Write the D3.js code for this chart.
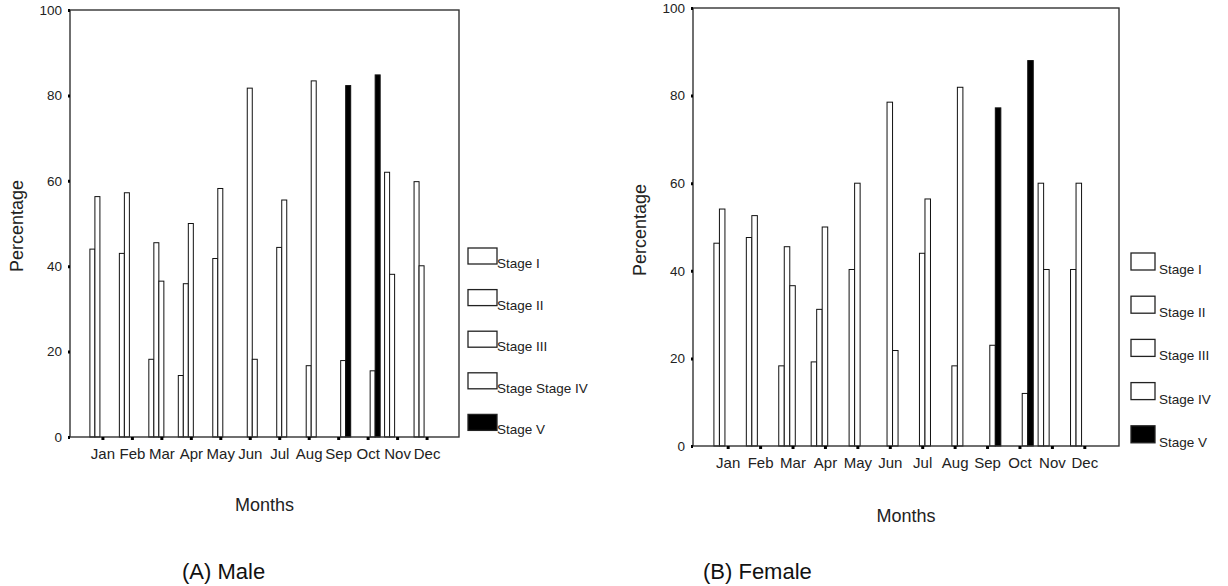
<!DOCTYPE html>
<html>
<head>
<meta charset="utf-8">
<script src="https://cdn.jsdelivr.net/npm/d3@7"></script>
<style>
  body { margin: 0; background: #fff; }
  svg { display: block; font-family: "Liberation Sans", Arial, sans-serif; }
</style>
</head>
<body>
<div class="data"></div>
<script>
// months on the x-as, stages are the clustered bars
const months = ["Jan", "Feb", "Mar", "Apr", "May", "Jun", "Jul", "Aug", "Sep", "Oct", "Nov", "Dec"]
const yTicks = [0, 20, 40, 60, 80, 100]

// (A) Male, percentage per month (null = no bar)
const maleStageI   = [44, 43, 18.2, 14.4, null, null, null, null, null, null, 62, 59.8]
const maleStageII  = [56.3, 57.2, 45.5, 35.9, 41.8, null, null, null, null, null, 38.1, 40.1]
const maleStageIII = [null, null, 36.5, 50, 58.2, 81.7, 44.4, 16.7, null, null, null, null]
const maleStageIV  = [null, null, null, null, null, 18.2, 55.5, 83.4, 17.9, 15.5, null, null]
const maleStageV   = [null, null, null, null, null, null, null, null, 82.3, 84.8, null, null]
const maleLegend = ["Stage I", "Stage II", "Stage III", "Stage Stage IV", "Stage V"]

// (B) Female
const femaleStageI   = [46.3, 47.6, 18.3, 19.2, null, null, null, null, null, null, 60, 40.3]
const femaleStageII  = [54.1, 52.6, 45.5, 31.2, 40.3, null, null, null, null, null, 40.3, 60]
const femaleStageIII = [null, null, 36.6, 50, 60, 78.5, 44, 18.3, null, null, null, null]
const femaleStageIV  = [null, null, null, null, null, 21.8, 56.4, 81.9, 23, 12, null, null]
const femaleStageV   = [null, null, null, null, null, null, null, null, 77.2, 88, null, null]
const femaleLegend = ["Stage I", "Stage II", "Stage III", "Stage IV", "Stage V"]

const stageKeys = ["I", "II", "III", "IV", "V"]

const svg = d3.select(".data").append("svg")
    .attr("width", 1228)
    .attr("height", 586)

function drawPanel(cfg) {
    const series = cfg.series
    const g = svg.append("g")

    // month positions (tick in the middle of every cluster)
    const x0 = d3.scalePoint()
        .domain(months)
        .range([cfg.left, cfg.right])
        .padding(cfg.pad)

    // 5 stage slots inside a cluster
    const x1 = d3.scaleBand()
        .domain(stageKeys)
        .range([-x0.step() * 0.425, x0.step() * 0.425])

    const y = d3.scaleLinear()
        .domain([0, 100])
        .range([cfg.bottom, cfg.top])

    const rows = []
    months.forEach((m, i) => {
        series.forEach((s, j) => {
            if (s[i] != null) rows.push({month: m, stage: stageKeys[j], value: s[i]})
        })
    })

    g.selectAll("rect.bar")
        .data(rows)
        .enter().append("rect")
        .attr("class", "bar")
        .attr("x", d => x0(d.month) + x1(d.stage))
        .attr("width", x1.bandwidth())
        .attr("y", d => y(d.value))
        .attr("height", d => y(0) - y(d.value))
        .attr("fill", d => d.stage === "V" ? "#000" : "#fff")
        .attr("stroke", "#111")
        .attr("stroke-width", 1)

    // frame
    g.append("rect")
        .attr("x", cfg.left)
        .attr("y", cfg.top)
        .attr("width", cfg.right - cfg.left)
        .attr("height", cfg.bottom - cfg.top)
        .attr("fill", "none")
        .attr("stroke", "#333")
        .attr("stroke-width", 1.4)

    // y-as
    g.append("g")
        .attr("transform", "translate(" + cfg.left + ",0)")
        .call(d3.axisLeft(y).tickValues(yTicks).tickSize(2).tickPadding(6))
        .call(a => a.select(".domain").remove())
        .call(a => a.selectAll("line").attr("stroke", "#000").attr("stroke-width", 3))
        .call(a => a.selectAll("text")
            .attr("font-size", 13.5)
            .attr("fill", "#222")
            .style("font-family", "Liberation Sans, Arial, sans-serif"))

    // x-as, small square ticks
    g.append("g")
        .attr("transform", "translate(0," + cfg.bottom + ")")
        .call(d3.axisBottom(x0).tickSize(3).tickPadding(8))
        .call(a => a.select(".domain").remove())
        .call(a => a.selectAll("line").attr("stroke", "#000").attr("stroke-width", 3))
        .call(a => a.selectAll("text")
            .attr("font-size", 15)
            .attr("fill", "#222")
            .style("font-family", "Liberation Sans, Arial, sans-serif"))

    // axis titles
    g.append("text")
        .attr("x", (cfg.left + cfg.right) / 2)
        .attr("y", cfg.monthsY)
        .attr("text-anchor", "middle")
        .attr("font-size", 18)
        .attr("fill", "#222")
        .text("Months")

    g.append("text")
        .attr("transform", "translate(" + cfg.percX + "," + cfg.percY + ") rotate(-90)")
        .attr("text-anchor", "middle")
        .attr("font-size", 18)
        .attr("fill", "#222")
        .text("Percentage")

    // legend
    const legend = g.selectAll(".legend")
        .data(cfg.legend)
        .enter().append("g")
        .attr("class", "legend")
        .attr("transform", (d, i) => "translate(" + cfg.legX + "," + (cfg.legY + i * cfg.legStep) + ")")

    legend.append("rect")
        .attr("width", cfg.boxW)
        .attr("height", cfg.boxH)
        .attr("fill", (d, i) => i === 4 ? "#000" : "#fff")
        .attr("stroke", "#222")
        .attr("stroke-width", 1.3)

    legend.append("text")
        .attr("x", cfg.boxW + cfg.textGap)
        .attr("y", cfg.boxH + 4)
        .attr("font-size", 13.5)
        .attr("fill", "#222")
        .text(d => d)

    // caption
    g.append("text")
        .attr("x", cfg.capX)
        .attr("y", 579)
        .attr("font-size", 22)
        .attr("fill", "#111")
        .text(cfg.caption)
}

drawPanel({
    series: [maleStageI, maleStageII, maleStageIII, maleStageIV, maleStageV],
    legend: maleLegend,
    left: 70, right: 459, top: 10, bottom: 437, pad: 1.1,
    monthsY: 511, percX: 23, percY: 226,
    legX: 468, legY: 248, legStep: 41.6, boxW: 29, boxH: 16, textGap: 0,
    capX: 182, caption: "(A) Male"
})

drawPanel({
    series: [femaleStageI, femaleStageII, femaleStageIII, femaleStageIV, femaleStageV],
    legend: femaleLegend,
    left: 693, right: 1119, top: 8, bottom: 446, pad: 1.07,
    monthsY: 522, percX: 646, percY: 230,
    legX: 1131, legY: 253, legStep: 43.2, boxW: 24, boxH: 17, textGap: 4,
    capX: 703, caption: "(B) Female"
})
</script>
</body>
</html>
